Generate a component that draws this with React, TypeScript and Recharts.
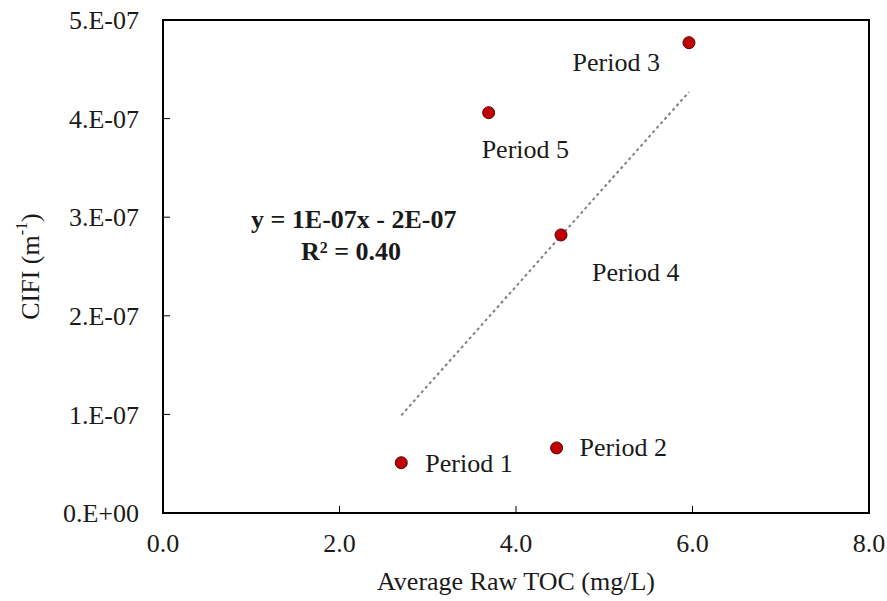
import {
  ScatterChart,
  Scatter,
  XAxis,
  YAxis,
  ReferenceLine,
  ReferenceArea,
  Label,
  LabelList,
} from "recharts";

const periods = ["Period 1", "Period 2", "Period 3", "Period 4", "Period 5"];
const toc = [2.7, 4.46, 5.96, 4.51, 3.69];
const clfi = [5.1e-8, 6.6e-8, 4.77e-7, 2.82e-7, 4.06e-7];
const xTicks = [0, 2, 4, 6, 8];
const yTicks = [0, 1e-7, 2e-7, 3e-7, 4e-7, 5e-7];

const FONT = "'Liberation Serif', 'Times New Roman', serif";
const FS = 26;

// label placement relative to each dot
const LABEL_POS: Record<string, { dx: number; dy: number; anchor: "start" | "end" }> = {
  "Period 1": { dx: 24, dy: 1, anchor: "start" },
  "Period 2": { dx: 23, dy: 0, anchor: "start" },
  "Period 3": { dx: -29, dy: 20, anchor: "end" },
  "Period 4": { dx: 31, dy: 38, anchor: "start" },
  "Period 5": { dx: -7, dy: 37, anchor: "start" },
};

const data = periods.map((name, i) => ({ name, x: toc[i], y: clfi[i] }));

// least squares trendline, like the spreadsheet's linear fit
const n = toc.length;
const mx = toc.reduce((a, b) => a + b, 0) / n;
const my = clfi.reduce((a, b) => a + b, 0) / n;
const sxy = toc.reduce((s, x, i) => s + (x - mx) * (clfi[i] - my), 0);
const sxx = toc.reduce((s, x) => s + (x - mx) ** 2, 0);
const slope = sxy / sxx;
const icpt = my - slope * mx;
const xMin = Math.min(...toc);
const xMax = Math.max(...toc);

const fmtY = (v: number) => (v === 0 ? "0.E+00" : `${Math.round(v / 1e-7)}.E-07`);

const PeriodLabel = (props: any) => {
  const { x, y, width, height, value } = props;
  const p = LABEL_POS[value];
  const cx = x + width / 2;
  const cy = y + height / 2;
  return (
    <text
      x={cx + p.dx}
      y={cy + p.dy}
      textAnchor={p.anchor}
      dominantBaseline="central"
      fontFamily={FONT}
      fontSize={FS}
      fill="#1a1a1a"
    >
      {value}
    </text>
  );
};

export default function App() {
  return (
    <div style={{ position: "absolute", left: 0, top: 0, width: 887, height: 601, background: "#fff" }}>
      <ScatterChart width={887} height={601} margin={{ top: 20, right: 18, bottom: 0, left: 0 }}>
        <XAxis
          type="number"
          dataKey="x"
          domain={[0, 8]}
          ticks={xTicks}
          tickFormatter={(v: number) => v.toFixed(1)}
          height={88}
          axisLine={{ stroke: "#000", strokeWidth: 2 }}
          tickLine={{ stroke: "#000", strokeWidth: 1 }}
          tickSize={-7}
          tickMargin={28}
          tick={{ fontFamily: FONT, fontSize: FS, fill: "#1a1a1a" }}
          allowDataOverflow
        >
          <Label
            value="Average Raw TOC (mg/L)"
            position="insideBottom"
            offset={11}
            style={{ fontFamily: FONT, fontSize: FS, fill: "#1a1a1a" }}
          />
        </XAxis>
        <YAxis
          type="number"
          dataKey="y"
          domain={[0, 5e-7]}
          ticks={yTicks}
          tickFormatter={fmtY}
          width={163}
          axisLine={{ stroke: "#000", strokeWidth: 2 }}
          tickLine={{ stroke: "#000", strokeWidth: 1 }}
          tickSize={-7}
          tickMargin={31}
          tick={{ fontFamily: FONT, fontSize: FS, fill: "#1a1a1a" }}
          allowDataOverflow
        >
          <Label
            content={(props: any) => {
              const vb = props.viewBox;
              const cx = vb.x + 30;
              const cy = vb.y + vb.height / 2;
              return (
                <text
                  x={cx}
                  y={cy}
                  transform={`rotate(-90 ${cx} ${cy})`}
                  textAnchor="middle"
                  dominantBaseline="central"
                  fontFamily={FONT}
                  fontSize={FS}
                  fill="#1a1a1a"
                >
                  CIFI (m
                  <tspan fontSize={16} dy={-9}>
                    -1
                  </tspan>
                  <tspan dy={9}>)</tspan>
                </text>
              );
            }}
          />
        </YAxis>
        <ReferenceArea
          x1={0}
          x2={8}
          y1={0}
          y2={5e-7}
          fill="none"
          stroke="#000"
          strokeWidth={2}
          ifOverflow="visible"
        />
        <ReferenceLine
          segment={[
            { x: xMin, y: slope * xMin + icpt },
            { x: xMax, y: slope * xMax + icpt },
          ]}
          stroke="#808080"
          strokeWidth={2}
          strokeDasharray="3 3"
          ifOverflow="visible"
        />
        <Scatter
          data={data}
          fill="#c00000"
          shape={(p: any) => (
            <circle cx={p.cx} cy={p.cy} r={6} fill="#c00000" stroke="#5a0000" strokeWidth={1} />
          )}
          isAnimationActive={false}
        >
          <LabelList dataKey="name" content={PeriodLabel} />
        </Scatter>
      </ScatterChart>
      <div
        style={{
          position: "absolute",
          left: 251,
          top: 206,
          width: 200,
          textAlign: "center",
          fontFamily: FONT,
          fontSize: FS,
          fontWeight: "bold",
          lineHeight: "28px",
          color: "#1a1a1a",
          whiteSpace: "nowrap",
        }}
      >
        <div>y = 1E-07x - 2E-07</div>
        <div>
          R<span style={{ fontSize: 16, verticalAlign: "7px" }}>2</span> = 0.40
        </div>
      </div>
    </div>
  );
}
